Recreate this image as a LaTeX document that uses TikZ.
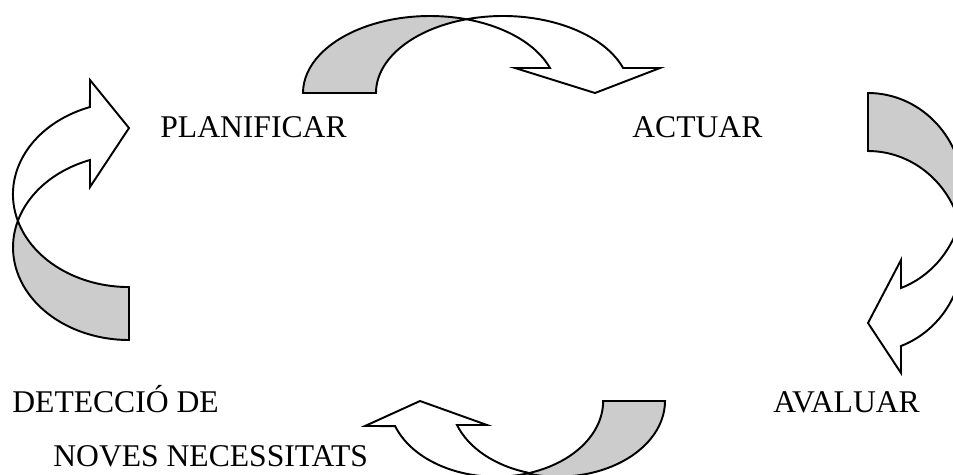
\documentclass[tikz,border=0pt]{standalone}
\usepackage{fontspec}
\setmainfont{Liberation Serif}

\begin{document}
\begin{tikzpicture}[x=0.02cm,y=-0.02cm,
    back/.style={draw,line width=1.1pt,fill=gray!40,line join=miter},
    front/.style={draw,line width=1.1pt,fill=white,line join=miter},
    word/.style={anchor=base west,inner sep=0pt,font=\fontsize{18}{22}\selectfont}]
      \useasboundingbox (0,0) rectangle (953,474);
      \clip (0,0) rectangle (953,474);
      \draw
        (160,137) node[word] (plan){PLANIFICAR}
        (632,137) node[word] (act){ACTUAR}
        (773,412) node[word] (aval){AVALUAR}
        (12,412) node[word] (det){DETECCIÓ DE}
        (53,466) node[word] (nec){NOVES NECESSITATS};
      % planificar -> actuar
      \begin{scope}[x radius=127,y radius=77]
        \path[back] (303,93) arc[start angle=180,end angle=286.7]
          arc[start angle=253.3,end angle=180] -- cycle;
        \path[front] (466.5,19.25) arc[start angle=253.3,end angle=341.06]
          -- (660,68) -- (595,93) -- (515,68) -- (550,68)
          arc[start angle=341.06,end angle=286.7] -- cycle;
      \end{scope}
      % actuar -> avaluar
      \begin{scope}[x radius=95.5,y radius=100.6]
        \path[back] (868,93) arc[start angle=270,end angle=376.76]
          arc[start angle=343.24,end angle=270] -- cycle;
        \path[front] (959.4,222.6) arc[start angle=-16.76,end angle=69.79]
          -- (901,373) -- (868,323) -- (901,260) -- (901,288)
          arc[start angle=69.79,end angle=16.76] -- cycle;
      \end{scope}
      % avaluar -> deteccio
      \begin{scope}[x radius=107,y radius=75.7]
        \path[back] (665,401) arc[start angle=0,end angle=106.8]
          arc[start angle=73.2,end angle=0] -- cycle;
        \path[front] (527,473.5) arc[start angle=73.2,end angle=160.7]
          -- (365,426) -- (420,401) -- (487,425) -- (457,425)
          arc[start angle=160.7,end angle=106.8] -- cycle;
      \end{scope}
      % deteccio -> planificar
      \begin{scope}[x radius=116,y radius=92.7]
        \path[back] (129,340) arc[start angle=90,end angle=196.6]
          arc[start angle=163.4,end angle=90] -- cycle;
        \path[front] (17.8,220.8) arc[start angle=163.4,end angle=250.35]
          -- (90,80) -- (129,128) -- (90,187) -- (90,160)
          arc[start angle=250.35,end angle=196.6] -- cycle;
      \end{scope}
    \end{tikzpicture}
\end{document}
